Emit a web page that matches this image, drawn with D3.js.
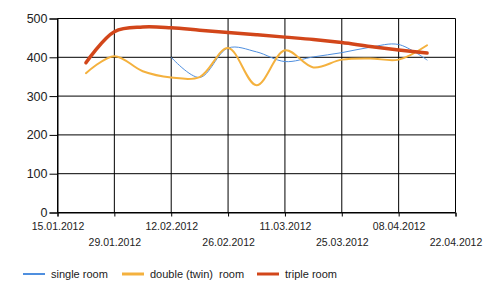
<!DOCTYPE html>
<html>
<head>
<meta charset="utf-8">
<script src="https://cdn.jsdelivr.net/npm/d3@7"></script>
<style>
  body { margin: 0; background: #fff; }
  svg { display: block; font-family: "Liberation Sans", Arial, sans-serif; }
</style>
</head>
<body>
<div id="chart"></div>
<script>
// Weekly dates of the measurements
var dates = ["22.01.2012", "29.01.2012", "05.02.2012", "12.02.2012", "19.02.2012", "26.02.2012",
             "04.03.2012", "11.03.2012", "18.03.2012", "25.03.2012", "01.04.2012", "08.04.2012", "15.04.2012"];

// Series values (null = no data)
var singleRoom = [null, null, null, 400, 348, 424, 414, 389, 401, 412, 426, 433, 393];
var doubleRoom = [359, 403, 364, 348, 349, 424, 328, 418, 374, 394, 397, 394, 431];
var tripleRoom = [386, 466, 478, 476, 470, 464, 458, 452, 446, 438, 428, 419, 411];

var xTickLabels = ["15.01.2012", "29.01.2012", "12.02.2012", "26.02.2012",
                   "11.03.2012", "25.03.2012", "08.04.2012", "22.04.2012"];
var yTickValues = [0, 100, 200, 300, 400, 500];

var seriesNames = ["single room", "double (twin)  room", "triple room"];
var seriesColors = ["#4f8fdf", "#f4b13e", "#d2461a"];
var seriesWidths = [1, 2, 3.5];

var width = 500,
    height = 296,
    margin = { left: 57.5, right: 44.5, top: 18.5, bottom: 83.5 };

var parse = d3.timeParse("%d.%m.%Y");

var xScale = d3.scaleTime()
    .domain([parse(xTickLabels[0]), parse(xTickLabels[xTickLabels.length - 1])])
    .range([margin.left, width - margin.right]);

var yScale = d3.scaleLinear()
    .domain([0, 500])
    .range([height - margin.bottom, margin.top]);

var svg = d3.select("#chart").append("svg")
    .attr("width", width)
    .attr("height", height);

// grid lines
var grid = svg.append("g").attr("class", "grid");
grid.selectAll("line.h")
    .data(yTickValues)
    .enter().append("line")
    .attr("class", "h")
    .attr("x1", xScale.range()[0])
    .attr("x2", xScale.range()[1])
    .attr("y1", d => yScale(d))
    .attr("y2", d => yScale(d))
    .attr("stroke", "#000");

grid.selectAll("line.v")
    .data(xTickLabels)
    .enter().append("line")
    .attr("class", "v")
    .attr("x1", d => xScale(parse(d)))
    .attr("x2", d => xScale(parse(d)))
    .attr("y1", yScale.range()[0])
    .attr("y2", yScale.range()[1])
    .attr("stroke", "#000");

// y axis
var yAxis = d3.axisLeft(yScale)
    .tickValues(yTickValues)
    .tickSize(8)
    .tickPadding(2);

svg.append("g")
    .attr("class", "axis y")
    .attr("transform", "translate(" + margin.left + ",0)")
    .call(yAxis)
    .call(g => g.select(".domain").attr("stroke", "#000"))
    .call(g => g.selectAll("text").attr("font-size", 12.5).attr("fill", "#222")
        .attr("font-family", "Liberation Sans, Arial, sans-serif"));

// x axis, labels alternate between two rows
var xAxis = d3.axisBottom(xScale)
    .tickValues(xTickLabels.map(parse))
    .tickSize(4)
    .tickFormat(d3.timeFormat("%d.%m.%Y"));

svg.append("g")
    .attr("class", "axis x")
    .attr("transform", "translate(0," + yScale(0) + ")")
    .call(xAxis)
    .call(g => g.select(".domain").attr("stroke", "#000"))
    .call(g => g.selectAll("text")
        .attr("font-size", 10.5)
        .attr("fill", "#222")
        .attr("font-family", "Liberation Sans, Arial, sans-serif")
        .attr("y", (d, i) => i % 2 === 0 ? 10 : 26));

// lines
var allSeries = [singleRoom, doubleRoom, tripleRoom];

var line = d3.line()
    .x(d => xScale(parse(d.date)))
    .y(d => yScale(d.value))
    .curve(d3.curveCatmullRom.alpha(0.5));

svg.append("g").attr("class", "lines")
    .selectAll("path")
    .data(allSeries.map((values, i) => ({
        i: i,
        points: values.map((v, j) => ({ date: dates[j], value: v })).filter(p => p.value !== null)
    })))
    .enter().append("path")
    .attr("d", d => line(d.points))
    .attr("fill", "none")
    .attr("stroke", d => seriesColors[d.i])
    .attr("stroke-width", d => seriesWidths[d.i])
    .attr("stroke-linejoin", "round")
    .attr("stroke-linecap", "round");

// legend
var legendX = [23, 122, 257];
var legend = svg.append("g").attr("class", "legend")
    .selectAll("g")
    .data(seriesNames)
    .enter().append("g")
    .attr("transform", (d, i) => "translate(" + legendX[i] + ",274)");

legend.append("line")
    .attr("x1", 0).attr("x2", 22)
    .attr("stroke", (d, i) => seriesColors[i])
    .attr("stroke-width", (d, i) => i === 0 ? 2 : 3);

legend.append("text")
    .attr("x", 28)
    .attr("dy", "0.35em")
    .attr("font-size", 11)
    .attr("fill", "#222")
    .attr("xml:space", "preserve")
    .style("white-space", "pre")
    .text(d => d);
</script>
</body>
</html>
